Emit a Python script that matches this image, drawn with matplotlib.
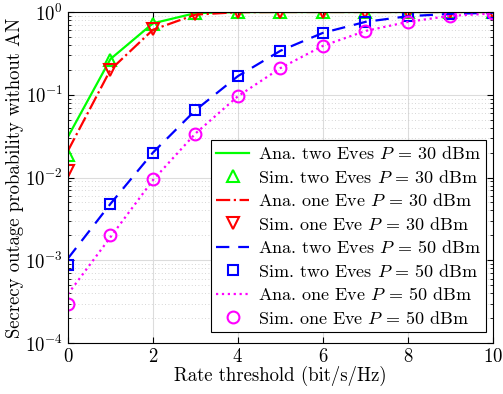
import numpy as np
import matplotlib.pyplot as plt

plt.rcParams['font.family'] = 'serif'
plt.rcParams['font.serif'] = ['cmr10']
plt.rcParams['mathtext.fontset'] = 'cm'
plt.rcParams['axes.formatter.use_mathtext'] = True

# rate threshold (bit/s/Hz)
R = [0, 1, 2, 3, 4, 5, 6, 7, 8, 9, 10]

# P = 30 dBm
ana_two_30 = [0.031, 0.27, 0.73, 0.97, 0.998, 1, 1, 1, 1, 1, 1]
sim_two_30 = [0.0185, 0.26, 0.72, 0.97, 1, 1, 1, 1, 1, 1, 1]
ana_one_30 = [0.021, 0.20, 0.61, 0.93, 0.995, 1, 1, 1, 1, 1, 1]
sim_one_30 = [0.012, 0.20, 0.62, 0.94, 0.99, 1, 1, 1, 1, 1, 1]

# P = 50 dBm
ana_two_50 = [0.00105, 0.0048, 0.020, 0.065, 0.168, 0.34, 0.56, 0.76, 0.89, 0.95, 0.98]
sim_two_50 = [0.00088, 0.0048, 0.020, 0.065, 0.168, 0.34, 0.56, 0.76, 0.90, 0.95, 0.97]
ana_one_50 = [0.00039, 0.0019, 0.0093, 0.034, 0.096, 0.21, 0.39, 0.59, 0.76, 0.90, 0.96]
sim_one_50 = [0.0003, 0.002, 0.0095, 0.034, 0.096, 0.21, 0.39, 0.59, 0.76, 0.90, 0.96]

fig = plt.figure(figsize=(5.03, 3.94), dpi=100)
ax = fig.add_axes([0.135, 0.1294, 0.845, 0.8401])

ms = 8.5
ax.semilogy(R, ana_two_30, '-', c=(0, 1, 0), lw=1.6, label=r'Ana. two Eves $P$ = 30 dBm')
ax.semilogy(R, sim_two_30, '^', c=(0, 1, 0), mfc='none', mew=1.5, ms=ms, label=r'Sim. two Eves $P$ = 30 dBm')
ax.semilogy(R, ana_one_30, '-.', c=(1, 0, 0), lw=1.6, label=r'Ana. one Eve $P$ = 30 dBm')
ax.semilogy(R, sim_one_30, 'v', c=(1, 0, 0), mfc='none', mew=1.5, ms=ms, label=r'Sim. one Eve $P$ = 30 dBm')
ax.semilogy(R, ana_two_50, '--', c=(0, 0, 1), lw=1.6, dashes=(6, 4), label=r'Ana. two Eves $P$ = 50 dBm')
ax.semilogy(R, sim_two_50, 's', c=(0, 0, 1), mfc='none', mew=1.5, ms=7, label=r'Sim. two Eves $P$ = 50 dBm')
ax.semilogy(R, ana_one_50, ':', c=(1, 0, 1), lw=1.6, label=r'Ana. one Eve $P$ = 50 dBm')
ax.semilogy(R, sim_one_50, 'o', c=(1, 0, 1), mfc='none', mew=1.5, ms=ms, label=r'Sim. one Eve $P$ = 50 dBm')

ax.set_xlim(0, 10)
ax.set_ylim(1e-4, 1)
ax.set_xticks([0, 2, 4, 6, 8, 10])
ax.grid(True, which='major', color='#dcdcdc', lw=0.8)
ax.grid(True, which='minor', axis='y', color='#c8c8c8', ls=(0, (1, 3)), lw=0.6)
ax.tick_params(which='both', direction='in', top=True, right=True, labelsize=13.5)
ax.tick_params(which='major', length=4)
ax.tick_params(which='minor', length=2)
for s in ax.spines.values():
    s.set_linewidth(0.8)

ax.set_xlabel('Rate threshold (bit/s/Hz)', fontsize=13.5, labelpad=0)
ax.set_ylabel('Secrecy outage probability without AN', fontsize=13.5, labelpad=1)

leg = ax.legend(loc='lower right', fontsize=13, fancybox=False, edgecolor='black',
                framealpha=1, handlelength=1.8, borderpad=0.3, labelspacing=0.36,
                handletextpad=0.5, borderaxespad=0, bbox_to_anchor=(0.984, 0.033))
leg.get_frame().set_linewidth(0.8)

fig.savefig('out.png', dpi=100)
